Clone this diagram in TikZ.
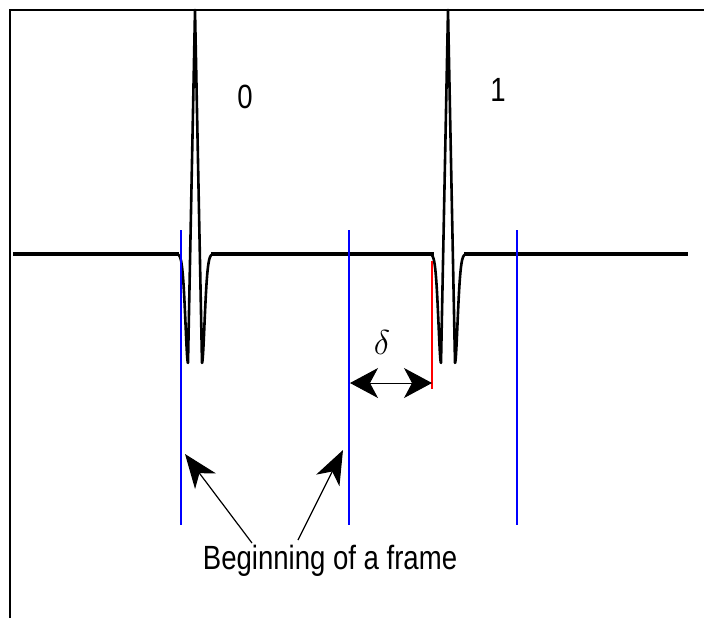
\documentclass[tikz,border=0pt]{standalone}
\usepackage{fontspec}
\newfontfamily\plotfont[FakeStretch=0.82]{Liberation Sans}
\usetikzlibrary{arrows.meta}

\begin{document}
\begin{tikzpicture}[x={(0.5pt,0pt)},y={(0pt,-0.5pt)},every node/.style={inner sep=0pt, outer sep=0pt},
  signal/.style={line width=1.3pt, line join=round},
  startline/.style={blue, line width=1pt},
  gaparrow/.style={line width=0.5pt, {Stealth[length=14pt,width=15pt,inset=4pt]}-{Stealth[length=14pt,width=15pt,inset=4pt]}},
  pointer/.style={line width=0.6pt, -{Stealth[length=17pt,width=13pt,inset=5pt]}},
  tag/.style={font={\plotfont\fontsize{16.8}{20}\selectfont}}]
\useasboundingbox (0,0) rectangle (704,618);
\draw[line width=1pt] (10,618) -- (10,10) -- (704,10);
\draw[line width=1.7pt] (13,254) -- (179,254) (211,254) -- (434,254) (464,254) -- (688,254);
\foreach \c in {195,448}
  \draw[signal] plot[domain=-17:-7, samples=41] ({\c+\x},{254-244*(1-\x*\x/16.32)*exp(-\x*\x/32.64)})
    -- (\c,10)
    -- plot[domain=7:17, samples=41] ({\c+\x},{254-244*(1-\x*\x/16.32)*exp(-\x*\x/32.64)});
\draw[startline] (181,230) -- (181,525);
\draw[startline] (349,230) -- (349,525);
\draw[startline, line width=0.75pt] (517,230) -- (517,525);
\draw[red, line width=1pt] (432,261) -- (432,389);
\node[tag] (zero) at (245,97) {0};
\node[tag] (one) at (498,90) {1};
\node (delta) at (382,342) {\fontsize{18}{20}\selectfont$\delta$};
\coordinate (gapL) at (350,383);
\coordinate (gapR) at (432,383);
\draw[gaparrow] (gapL) -- (gapR);
\node[tag, anchor=base] (caption) at (330,569) {Beginning of a frame};
\coordinate (tailA) at (252,543);
\coordinate (tailB) at (298,540);
\coordinate (tipA) at (185,454);
\coordinate (tipB) at (343,450);
\draw[pointer] (tailA) -- (tipA);
\draw[pointer] (tailB) -- (tipB);
\end{tikzpicture}
\end{document}
